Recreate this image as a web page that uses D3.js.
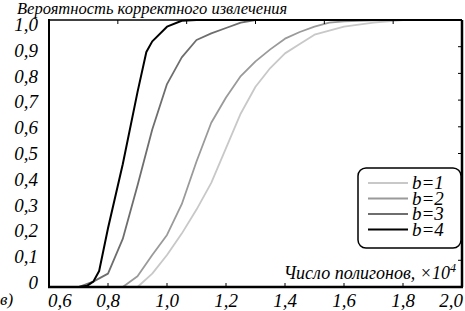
<!DOCTYPE html>
<html>
<head>
<meta charset="utf-8">
<script src="https://cdn.jsdelivr.net/npm/d3@7"></script>
<style>
  html, body { margin: 0; padding: 0; background: #fff; }
  svg { display: block; }
</style>
</head>
<body>
<div id="chart"></div>
<script>
// data: x in units of 10^4 polygons, y = probability
const b1 = [[0.90,0],[0.95,0.05],[1.0,0.12],[1.05,0.2],[1.1,0.29],[1.15,0.39],[1.2,0.52],[1.25,0.65],[1.3,0.75],[1.35,0.82],[1.4,0.875],[1.45,0.91],[1.5,0.945],[1.55,0.96],[1.6,0.975],[1.7,0.99],[1.8,1.0],[2.0,1.0]];
const b2 = [[0.85,0],[0.90,0.04],[0.95,0.12],[1.0,0.195],[1.05,0.31],[1.1,0.47],[1.15,0.615],[1.2,0.71],[1.25,0.79],[1.3,0.845],[1.35,0.89],[1.4,0.93],[1.45,0.955],[1.5,0.975],[1.55,0.99],[1.6,0.995],[1.7,0.999],[1.8,1.0],[2.0,1.0]];
const b3 = [[0.70,0],[0.75,0.02],[0.80,0.05],[0.85,0.18],[0.90,0.38],[0.95,0.59],[1.0,0.76],[1.05,0.86],[1.1,0.925],[1.15,0.95],[1.2,0.97],[1.25,0.99],[1.3,1.0],[2.0,1.0]];
const b4 = [[0.70,0],[0.73,0.005],[0.75,0.02],[0.77,0.06],[0.80,0.22],[0.85,0.46],[0.90,0.73],[0.93,0.88],[0.95,0.92],[1.0,0.975],[1.05,0.997],[1.1,1.0],[2.0,1.0]];

const seriesNames = ["b=1", "b=2", "b=3", "b=4"];
const seriesData = [b1, b2, b3, b4];
const seriesColors = ["#c8c8c8", "#9a9a9a", "#6e6e6e", "#000000"];

const xTicks = [0.6, 0.8, 1.0, 1.2, 1.4, 1.6, 1.8, 2.0];
const yTicks = [0, 0.1, 0.2, 0.3, 0.4, 0.5, 0.6, 0.7, 0.8, 0.9, 1.0];

const yTitle = "Вероятность корректного извлечения";
const xTitle = "Число полигонов, ×10";
const panelLabel = "в)";

const width = 465, height = 311;
const margin = { top: 20, right: 3, bottom: 24, left: 49 };
const serif = "'Liberation Serif', 'Times New Roman', serif";
const fmt = d => d === 0 ? "0" : d3.format(".1f")(d).replace(".", ",");

const svg = d3.select("#chart").append("svg")
  .attr("width", width)
  .attr("height", height)
  .attr("font-family", serif)
  .attr("font-style", "italic");

const x = d3.scaleLinear().domain([0.6, 2.0]).range([margin.left, width - margin.right]);
const y = d3.scaleLinear().domain([0, 1]).range([height - margin.bottom, margin.top]);
// the printed y labels sit a little closer together than the ticks
const yLab = d3.scaleLinear().domain([0, 1]).range([283, 25]);

// curves
const line = d3.line().x(d => x(d[0])).y(d => y(d[1]));
svg.append("g")
  .selectAll("path")
  .data(seriesData)
  .join("path")
  .attr("fill", "none")
  .attr("stroke", (_, i) => seriesColors[i])
  .attr("stroke-width", (_, i) => i === 3 ? 2 : 1.8)
  .attr("stroke-linejoin", "round")
  .attr("d", d => line(d));

// frame
const x0 = x.range()[0], x1 = x.range()[1], y0 = y.range()[0], y1 = y.range()[1];
svg.append("line").attr("x1", x0).attr("x2", x1).attr("y1", y1).attr("y2", y1)
  .attr("stroke", "#000").attr("stroke-width", 1.5);
svg.append("line").attr("x1", x1).attr("x2", x1).attr("y1", y1).attr("y2", y0)
  .attr("stroke", "#000").attr("stroke-width", 2.5);
svg.append("line").attr("x1", x0).attr("x2", x0).attr("y1", y1 - 1).attr("y2", y0 + 1)
  .attr("stroke", "#000").attr("stroke-width", 2);
svg.append("line").attr("x1", x0 - 1).attr("x2", x1 + 1).attr("y1", y0).attr("y2", y0)
  .attr("stroke", "#000").attr("stroke-width", 2.5);

// inward ticks: bottom
svg.append("g").selectAll("line")
  .data(xTicks.slice(1, -1))
  .join("line")
  .attr("x1", d => x(d)).attr("x2", d => x(d))
  .attr("y1", y0).attr("y2", y0 - 4)
  .attr("stroke", "#000");

// top ticks (the top edge is divided into six parts in the original)
const xTop = d3.scaleLinear().domain([0, 6]).range([x0, x1]);
svg.append("g").selectAll("line")
  .data([1, 2, 3, 4, 5])
  .join("line")
  .attr("x1", d => xTop(d)).attr("x2", d => xTop(d))
  .attr("y1", y1).attr("y2", y1 + 4)
  .attr("stroke", "#000");

// right ticks
svg.append("g").selectAll("line")
  .data(yTicks.slice(1, -1))
  .join("line")
  .attr("x1", x1).attr("x2", x1 - 4)
  .attr("y1", d => y(d)).attr("y2", d => y(d))
  .attr("stroke", "#000");

// tick labels
svg.append("g").selectAll("text")
  .data(yTicks)
  .join("text")
  .attr("x", x0 - 11)
  .attr("y", d => yLab(d) + 6)
  .attr("text-anchor", "end")
  .attr("font-size", 19)
  .text(fmt);

svg.append("g").selectAll("text")
  .data(xTicks)
  .join("text")
  .attr("x", (d, i) => i === 0 ? x(d) - 1 : i === xTicks.length - 1 ? x(d) + 1 : x(d))
  .attr("y", y0 + 20)
  .attr("text-anchor", (d, i) => i === 0 ? "start" : i === xTicks.length - 1 ? "end" : "middle")
  .attr("font-size", 19)
  .text(fmt);

// titles
svg.append("text")
  .attr("x", 17).attr("y", 14)
  .attr("font-size", 16.5)
  .text(yTitle);

const xt = svg.append("text")
  .attr("x", 456).attr("y", 279)
  .attr("text-anchor", "end")
  .attr("font-size", 18)
  .text(xTitle);
xt.append("tspan").attr("dy", -7).attr("font-size", 12).text("4");

svg.append("text")
  .attr("x", 0).attr("y", 305)
  .attr("font-size", 17)
  .text(panelLabel);

// legend
const legend = svg.append("g").attr("transform", "translate(358,168)");
legend.append("rect")
  .attr("width", 103).attr("height", 80)
  .attr("rx", 8).attr("ry", 8)
  .attr("fill", "#fff")
  .attr("stroke", "#000")
  .attr("stroke-width", 1.5);

const rows = legend.selectAll("g.row")
  .data(seriesNames)
  .join("g")
  .attr("class", "row")
  .attr("transform", (_, i) => `translate(0, ${15 + i * 15.5})`);

rows.append("line")
  .attr("x1", 10).attr("x2", 50)
  .attr("stroke", (_, i) => seriesColors[i])
  .attr("stroke-width", (_, i) => i === 3 ? 2 : 1.8);

rows.append("text")
  .attr("x", 54).attr("y", 6)
  .attr("font-size", 19)
  .text(d => d);
</script>
</body>
</html>
